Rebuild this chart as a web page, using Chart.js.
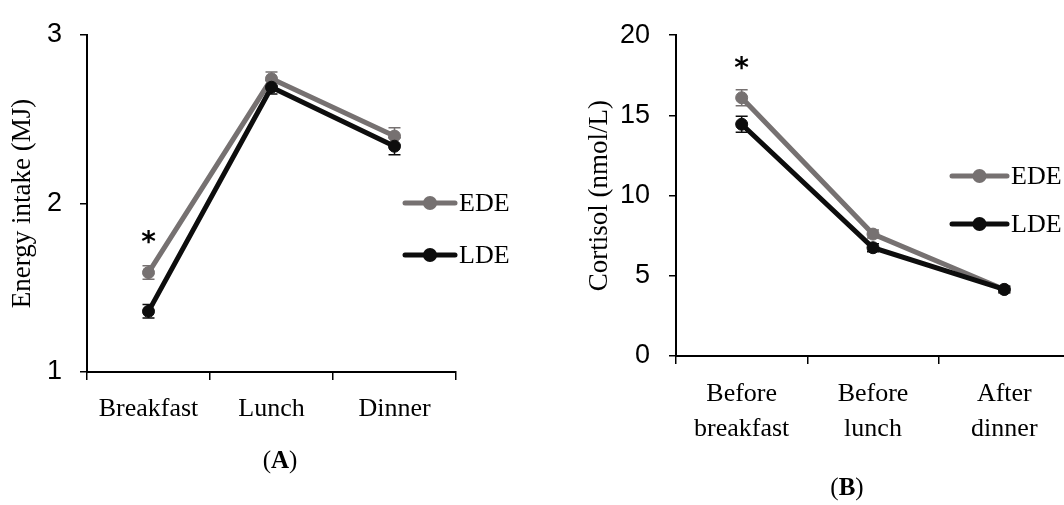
<!DOCTYPE html>
<html lang="en">
<head>
    <meta charset="UTF-8">
    <title>Energy intake and cortisol</title>
    <script src="https://cdn.jsdelivr.net/npm/chart.js"></script>
    <style>
        html, body { margin: 0; padding: 0; background: #fff; overflow: hidden; }
        body { width: 1064px; height: 505px; position: relative; }
        .box { position: absolute; top: 0; height: 505px; }
        #boxA { left: 0; width: 560px; }
        #boxB { left: 560px; width: 530px; }
        .panel-label { position: absolute; font-family: "Liberation Serif", serif; font-size: 25px; color: #000; transform: translate(-50%, -50%); }
    </style>
</head>
<body>
    <div class="box" id="boxA"><canvas id="chartA"></canvas></div>
    <div class="box" id="boxB"><canvas id="chartB"></canvas></div>
    <div class="panel-label" style="left:280px; top:460px;">(<b>A</b>)</div>
    <div class="panel-label" style="left:847px; top:487px;">(<b>B</b>)</div>
    <script>
        // panel A - energy intake
        const mealLabels = ['Breakfast', 'Lunch', 'Dinner'];
        const energyEDE = [1.59, 2.74, 2.40];
        const energyLDE = [1.36, 2.69, 2.34];
        const energyEDEse = [0.04, 0.04, 0.05];
        const energyLDEse = [0.04, 0.04, 0.05];
        const energyTicks = [1, 2, 3];

        // panel B - cortisol
        const timeLabels = [['Before', 'breakfast'], ['Before', 'lunch'], ['After', 'dinner']];
        const cortisolEDE = [16.1, 7.6, 4.15];
        const cortisolLDE = [14.45, 6.75, 4.15];
        const cortisolEDEse = [0.5, 0.25, 0.2];
        const cortisolLDEse = [0.5, 0.25, 0.2];
        const cortisolTicks = [0, 5, 10, 15, 20];

        const GREY = '#767171';
        const BLACK = '#0d0d0d';
        const serif = '"Liberation Serif", serif';
        const sans = '"Liberation Sans", Arial, sans-serif';

        // error bars, significance star and legend drawn with the chart's scales
        const extrasPlugin = {
            id: 'extras',
            beforeDatasetsDraw(chart, args, opts) {
                const ctx = chart.ctx;
                const x = chart.scales.x, y = chart.scales.y;
                chart.data.datasets.forEach(ds => {
                    ctx.save();
                    ctx.strokeStyle = ds.borderColor;
                    ctx.lineWidth = 1.5;
                    ds.data.forEach((v, i) => {
                        const px = x.getPixelForValue(i);
                        const top = y.getPixelForValue(v + ds.se[i]);
                        const bot = y.getPixelForValue(v - ds.se[i]);
                        ctx.beginPath();
                        ctx.moveTo(px, top); ctx.lineTo(px, bot);
                        ctx.moveTo(px - 6, top); ctx.lineTo(px + 6, top);
                        ctx.moveTo(px - 6, bot); ctx.lineTo(px + 6, bot);
                        ctx.stroke();
                    });
                    ctx.restore();
                });
            },
            afterDraw(chart, args, opts) {
                const ctx = chart.ctx;
                const x = chart.scales.x, y = chart.scales.y;
                const area = chart.chartArea;
                // star above the first EDE point
                const ede = chart.data.datasets.find(d => d.label === 'EDE');
                ctx.save();
                ctx.fillStyle = '#000';
                ctx.font = 'bold 28px "DejaVu Sans", sans-serif';
                ctx.textAlign = 'center';
                ctx.textBaseline = 'middle';
                ctx.fillText('*', x.getPixelForValue(0), y.getPixelForValue(ede.data[0] + ede.se[0]) - opts.starGap);
                ctx.restore();

                // legend
                const items = chart.data.datasets.slice().sort((a, b) => a.legendRank - b.legendRank);
                items.forEach((ds, k) => {
                    const ly = opts.legendTop + k * opts.legendGap;
                    const x0 = area.right - opts.legendRight - opts.legendLen;
                    const x1 = x0 + opts.legendLen;
                    ctx.save();
                    ctx.strokeStyle = ds.borderColor;
                    ctx.lineWidth = 5;
                    ctx.lineCap = 'round';
                    ctx.beginPath();
                    ctx.moveTo(x0, ly); ctx.lineTo(x1, ly);
                    ctx.stroke();
                    ctx.fillStyle = ds.borderColor;
                    ctx.beginPath();
                    ctx.arc((x0 + x1) / 2, ly, 7, 0, Math.PI * 2);
                    ctx.fill();
                    ctx.fillStyle = '#000';
                    ctx.font = '26px ' + serif;
                    ctx.textAlign = 'left';
                    ctx.textBaseline = 'middle';
                    ctx.fillText(ds.label, x1 + 4, ly + 1);
                    ctx.restore();
                });
            }
        };

        function series(label, data, se, color, order, rank) {
            return {
                label, data, se,
                borderColor: color,
                backgroundColor: color,
                pointBackgroundColor: color,
                pointBorderColor: color,
                borderWidth: 5,
                pointRadius: 6,
                pointBorderWidth: 1,
                tension: 0,
                order,
                legendRank: rank
            };
        }

        function makeChart(id, cfg) {
            return new Chart(document.getElementById(id), {
                type: 'line',
                data: {
                    labels: cfg.labels,
                    datasets: [
                        series('EDE', cfg.ede, cfg.edeSe, GREY, 1, 0),
                        series('LDE', cfg.lde, cfg.ldeSe, BLACK, 0, 1)
                    ]
                },
                options: {
                    responsive: true,
                    maintainAspectRatio: false,
                    animation: false,
                    layout: { padding: { left: 0, right: cfg.padRight, top: cfg.padTop, bottom: 0 } },
                    plugins: {
                        legend: { display: false },
                        tooltip: { enabled: false },
                        extras: cfg.extras
                    },
                    scales: {
                        x: {
                            type: 'category',
                            offset: true,
                            grid: { display: true, drawOnChartArea: false, drawTicks: true, tickLength: 8, color: '#000', lineWidth: 1.5, offset: true },
                            border: { display: true, color: '#000', width: 2 },
                            ticks: { color: '#000', padding: cfg.xPad, maxRotation: 0, autoSkip: false,
                                font: { family: serif, size: 26, lineHeight: 1.35 } },
                            afterFit: s => { s.height = cfg.xHeight; }
                        },
                        y: {
                            min: cfg.ticks[0],
                            max: cfg.ticks[cfg.ticks.length - 1],
                            afterBuildTicks: s => { s.ticks = cfg.ticks.map(v => ({ value: v })); },
                            grid: { display: true, drawOnChartArea: false, drawTicks: true, tickLength: 7, color: '#000', lineWidth: 1.5 },
                            border: { display: true, color: '#000', width: 2 },
                            ticks: { color: '#000', padding: cfg.yPad, font: { family: sans, size: 27 } },
                            title: { display: true, text: cfg.yTitle, color: '#000',
                                font: { family: serif, size: 27 }, padding: { top: cfg.titlePad, bottom: 0 } },
                            afterFit: s => { s.width = cfg.yWidth; }
                        }
                    }
                },
                plugins: [extrasPlugin]
            });
        }

        makeChart('chartA', {
            labels: mealLabels,
            ede: energyEDE, lde: energyLDE, edeSe: energyEDEse, ldeSe: energyLDEse,
            ticks: energyTicks,
            yTitle: 'Energy intake (MJ)',
            yWidth: 87, padRight: 104, padTop: 35, xHeight: 133,
            xPad: 12, yPad: 18, titlePad: 7,
            extras: { starGap: 22, legendTop: 203, legendGap: 52, legendRight: 1, legendLen: 50 }
        });

        makeChart('chartB', {
            labels: timeLabels,
            ede: cortisolEDE, lde: cortisolLDE, edeSe: cortisolEDEse, ldeSe: cortisolLDEse,
            ticks: cortisolTicks,
            yTitle: 'Cortisol (nmol/L)',
            yWidth: 116, padRight: 20, padTop: 26, xHeight: 149,
            xPad: 13, yPad: 19, titlePad: 24,
            extras: { starGap: 20, legendTop: 176, legendGap: 48, legendRight: 63, legendLen: 55 }
        });
    </script>
</body>
</html>
